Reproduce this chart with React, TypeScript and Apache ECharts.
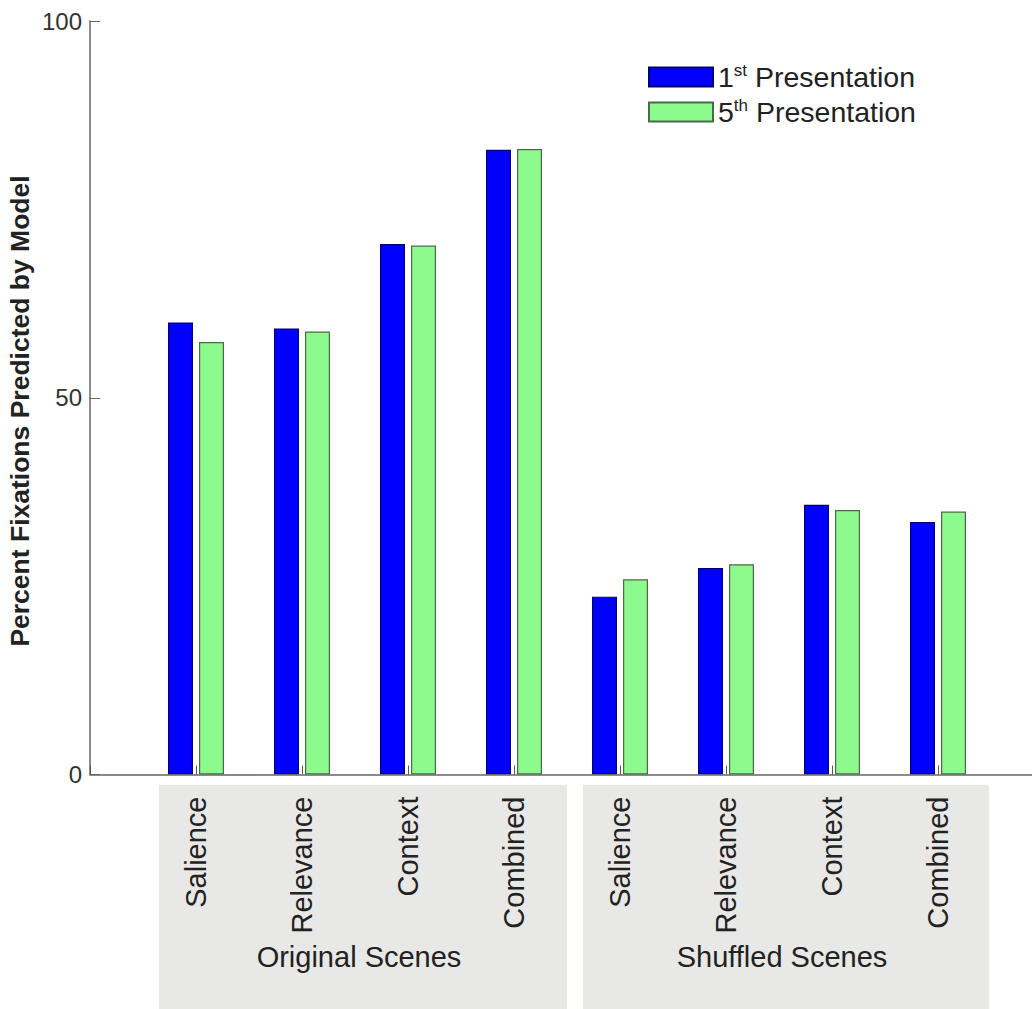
import React, { useEffect, useRef } from "react";
import * as echarts from "echarts";

const categories = ["", "Salience", "Relevance", "Context", "Combined", "Salience", "Relevance", "Context", "Combined", ""];
const firstPresentation = [60.0, 59.2, 70.4, 82.9, 23.6, 27.4, 35.8, 33.5];
const fifthPresentation = [57.4, 58.8, 70.2, 83.0, 25.9, 27.9, 35.1, 34.9];
const yTicks = [0, 50, 100];
const groupLabels = ["Original Scenes", "Shuffled Scenes"];
const seriesNames = ["1st Presentation", "5th Presentation"];

const FONT = "'Liberation Sans', Arial, Helvetica, sans-serif";

export default function App() {
  const ref = useRef<HTMLDivElement>(null);
  useEffect(() => {
    document.body.style.margin = "0";
    if (!ref.current) return;
    const chart = echarts.init(ref.current, null, { renderer: "svg" });
    const pad = (arr: number[]) => [null, ...arr, null];
    chart.setOption({
      animation: false,
      backgroundColor: "#ffffff",
      textStyle: { fontFamily: FONT },
      grid: { left: 90, top: 21, right: 6, bottom: 234.5, containLabel: false },
      legend: {
        orient: "vertical",
        left: 643,
        top: 57,
        itemWidth: 64,
        itemHeight: 19,
        itemGap: 5,
        icon: "rect",
        data: seriesNames,
        formatter: (name: string) => name.replace(/^(\d)(st|th)/, "$1{sup|$2}"),
        textStyle: {
          fontFamily: FONT,
          fontSize: 28.5,
          color: "#222",
          lineHeight: 30,
          rich: {
            sup: { fontSize: 17, verticalAlign: "top", lineHeight: 30, padding: [0, 0, 12, 0], fontFamily: FONT, color: "#222" },
          },
        },
      },
      xAxis: {
        type: "category",
        data: categories,
        boundaryGap: false,
        z: 5,
        axisLine: { lineStyle: { color: "#666", width: 1.5 } },
        axisTick: { inside: true, length: 9, lineStyle: { color: "#555" } },
        axisLabel: {
          rotate: 90,
          margin: 22,
          fontSize: 29,
          color: "#222",
          fontFamily: FONT,
          interval: 0,
        },
        splitLine: { show: false },
      },
      yAxis: {
        type: "value",
        min: 0,
        max: 100,
        interval: 50,
        axisLine: { show: true, lineStyle: { color: "#666", width: 1.5 } },
        axisTick: { show: true, inside: true, length: 10, lineStyle: { color: "#666" } },
        axisLabel: {
          fontSize: 24,
          color: "#333",
          margin: 8,
          fontFamily: FONT,
          formatter: (v: number) => (yTicks.includes(v) ? String(v) : ""),
        },
        splitLine: { show: false },
      },
      graphic: [
        { type: "rect", z: -10, shape: { x: 159, y: 785, width: 408, height: 230 }, style: { fill: "#e8e8e6" } },
        { type: "rect", z: -10, shape: { x: 583, y: 785, width: 406, height: 230 }, style: { fill: "#e8e8e6" } },
        {
          type: "text", z: 10, x: 359, y: 957,
          style: { text: groupLabels[0], fontSize: 29, fill: "#222", fontFamily: FONT, textAlign: "center", textVerticalAlign: "middle" },
        },
        {
          type: "text", z: 10, x: 782, y: 957,
          style: { text: groupLabels[1], fontSize: 29, fill: "#222", fontFamily: FONT, textAlign: "center", textVerticalAlign: "middle" },
        },
        {
          type: "text", z: 10, x: 20, y: 411, rotation: Math.PI / 2,
          style: { text: "Percent Fixations Predicted by Model", fontSize: 26.5, fontWeight: "bold", fill: "#222", fontFamily: FONT, textAlign: "center", textVerticalAlign: "middle" },
        },
      ],
      series: [
        {
          name: seriesNames[0],
          type: "bar",
          data: pad(firstPresentation),
          barWidth: 25,
          barGap: "24%",
          itemStyle: { color: "#0000ff", borderColor: "#00007a", borderWidth: 1.2 },
        },
        {
          name: seriesNames[1],
          type: "bar",
          data: pad(fifthPresentation),
          barWidth: 25,
          barGap: "24%",
          itemStyle: { color: "#8cfa8c", borderColor: "#4a6a4a", borderWidth: 1.2 },
        },
      ],
    });
    return () => chart.dispose();
  }, []);
  return (
    <div style={{ width: 1032, height: 1009, overflow: "hidden", position: "relative" }}>
      <div ref={ref} style={{ width: 1050, height: 1009 }} />
    </div>
  );
}
